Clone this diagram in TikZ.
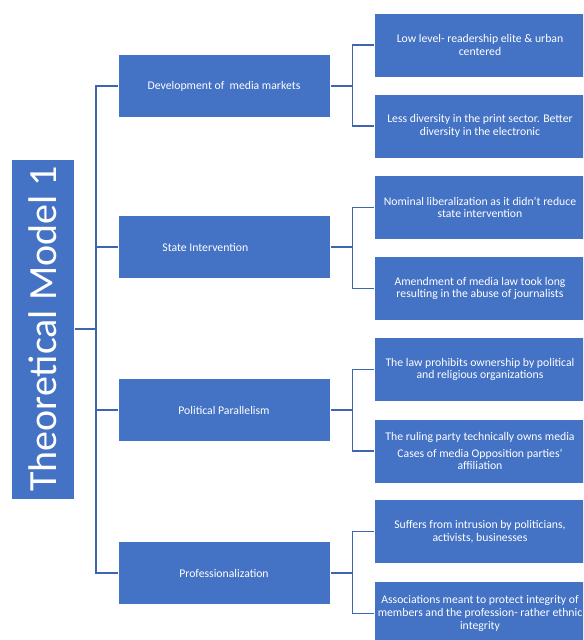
\documentclass[tikz,border=0pt]{standalone}
\usepackage{fontspec}
\setmainfont{Carlito}

\definecolor{boxblue}{RGB}{68,114,196}
\definecolor{linkblue}{RGB}{62,100,178}

\tikzset{every picture/.style={line width=0.75pt}}
\tikzset{
  rootbox/.style={rectangle, fill=boxblue, draw=white, text=white, rotate=90,
    minimum width=255pt, minimum height=47.25pt, inner sep=0pt,
    font=\fontsize{30}{33}\selectfont},
  mainbox/.style={rectangle, fill=boxblue, draw=white, text=white,
    minimum width=159pt, minimum height=47.25pt, inner sep=0pt,
    font=\fontsize{8.8}{10}\selectfont},
  leafbox/.style={rectangle, fill=boxblue, draw=white, text=white,
    minimum width=159pt, minimum height=48pt, inner sep=0pt, align=center,
    font=\fontsize{8.8}{9.6}\selectfont},
  link/.style={draw=linkblue, line width=1pt},
}

\begin{document}
\begin{tikzpicture}[x=0.75pt,y=0.75pt,yscale=-1,xscale=1]
\useasboundingbox (0,0) rectangle (583,640);
\clip (0,0) rectangle (583,640);

%Root
\node [rootbox] (root) at (42.5,329) {Theoretical Model 1};

%Main boxes
\node [mainbox] (dev) at (224,86) {Development of \ media markets};
\node [mainbox] (state) at (224,247) {State Intervention\hspace*{28pt}};
\node [mainbox] (polit) at (224,410) {Political Parallelism};
\node [mainbox] (prof) at (224,573) {Professionalization};

%Leaves
\node [leafbox] (dev1) at (480,45) {Low level- readership elite \& urban\\centered};
\node [leafbox] (dev2) at (480,126) {Less diversity in the print sector. Better\\diversity in the electronic};
\node [leafbox] (state1) at (480,207.5) {Nominal liberalization as it didn't reduce\\state intervention};
\node [leafbox] (state2) at (480,288.5) {Amendment of media law took long\\resulting in the abuse of journalists};
\node [leafbox] (polit1) at (480,369.5) {The law prohibits ownership by political\\and religious organizations};
\node [leafbox] (polit2) at (480,451) {The ruling party technically owns media\\[3pt]Cases of media Opposition parties'\\affiliation};
\node [leafbox] (prof1) at (480,531.5) {Suffers from intrusion by politicians,\\activists, businesses};
\node [leafbox] (prof2) at (480,613.5) {Associations meant to protect integrity of\\members and the profession- rather ethnic\\integrity};

%Trunk
\coordinate (trunk) at (96,329);
\foreach \m in {dev,state,polit,prof}
  \draw [link] (root.south) -- (trunk) |- (\m.west);

%Branches
\foreach \m in {dev,state,polit,prof} {
  \coordinate (\m-fork) at ([xshift=16.5pt]\m.east);
  \draw [link] (\m.east) -- (\m-fork) |- (\m1.west);
  \draw [link] (\m-fork) |- (\m2.west);
}

\end{tikzpicture}
\end{document}
